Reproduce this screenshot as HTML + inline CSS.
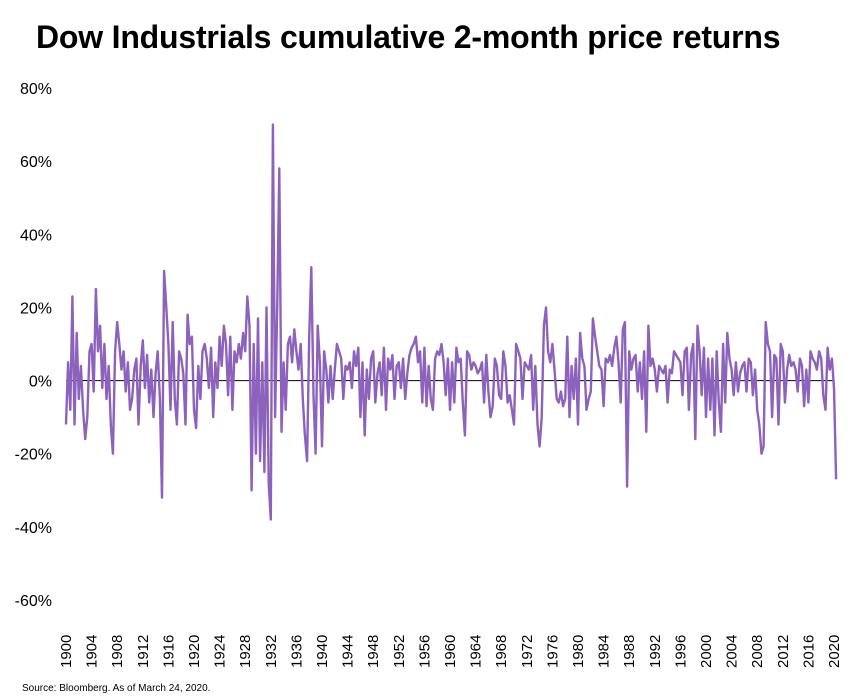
<!DOCTYPE html>
<html><head><meta charset="utf-8">
<style>
body{margin:0;background:#fff;font-family:"Liberation Sans",sans-serif;}
#wrap{position:relative;width:851px;height:699px;overflow:hidden;}
h1{position:absolute;left:36px;top:19px;margin:0;font-size:32px;font-weight:bold;color:#000;letter-spacing:-0.2px;}
#src{position:absolute;left:22px;top:683px;font-size:10px;color:#000;}
</style></head><body>
<div id="wrap">
<h1>Dow Industrials cumulative 2-month price returns</h1>
<svg id="chart" width="851" height="699" style="position:absolute;left:0;top:0"></svg>
<div id="src">Source: Bloomberg. As of March 24, 2020.</div>
</div>
<script>
const yTicks=[80,60,40,20,0,-20,-40,-60];
const yearTicks=[1900,1904,1908,1912,1916,1920,1924,1928,1932,1936,1940,1944,1948,1952,1956,1960,1964,1968,1972,1976,1980,1984,1988,1992,1996,2000,2004,2008,2012,2016,2020];
const startYear=1900;
const returns=[
-12,5,-8, 23,-12,13, -5,4,-8, -16,-10,8, 10,-3,25, 8,15,-2, 10,-5,4, -12,-20,8, 16,10,3, 8,-3,5,
-8,-5,3, 6,-12,4, 11,-2,7, -6,3,-10, 2,8,-5, -32,30,20, 10,-8,16, -5,-12,8, 6,2,-12, 18,10,12,
-8,-13,4, -5,8,10, 6,-2,9, -10,5,-2, 12,4,15, 10,-4,12, -8,8,5, 10,6,13, 8,23,15, -30,10,-20,
17,-22,5, -25,20,-28, -38,70,-10, 20,58,-14, 5,-8,10, 12,5,14, 8,3,10, -5,-15,-22, 12,31,-4, -20,15,5,
-18,8,3, -6,4,-5, 3,10,8, 6,-5,4, 3,5,-2, 8,4,9, -10,5,-15, 3,-5,6, 8,-6,2, 5,-4,9,
-8,6,3, 7,-5,4, 5,-2,6, -5,2,7, 9,10,12, 5,8,-6, 9,-7,4, -5,-8,6, 8,7,10, 5,-4,6,
-8,5,-6, 9,5,6, -6,-15,8, 7,3,5, 4,2,3, 5,-6,7, -3,-10,-7, 6,4,-4, -5,8,4, -6,-4,-8,
-12,10,8, 6,-5,5, 4,3,7, -8,4,-12, -18,-10,15, 20,8,5, 10,3,-5, -6,-3,-7, -5,12,-10, 4,-5,6,
-12,13,6, 4,-8,-5, -3,17,12, 8,4,3, -7,6,5, 7,4,9, 12,5,-6, 14,16,-29, 8,3,6, 7,-3,5,
-5,8,-14, 15,4,6, 3,-3,4, 3,2,4, -6,3,2, 8,7,6, 5,-4,8, 9,-8,7, 10,-16,15, 8,-4,9,
-10,6,-8, 6,-15,8, -6,-14,10, -6,13,6, 3,-4,5, -3,2,4, 5,-3,6, 5,-4,3, -8,-12,-20, -18,16,10,
8,-10,7, 6,-12,10, 8,-6,3, 7,4,5, 3,-3,6, 4,-7,3, -6,8,6, 5,3,8, 6,-4,-8, 9,3,6,
-2,-27];
const NS='http://www.w3.org/2000/svg';
const svg=document.getElementById('chart');
const x0=66,x1=834,yTop=88,yBot=600;
function xs(yr){return x0+(yr-1900)/120*(x1-x0);}
function ys(v){return yTop+(80-v)/140*(yBot-yTop);}
function mk(t,a){const e=document.createElementNS(NS,t);for(const k in a)e.setAttribute(k,a[k]);svg.appendChild(e);return e;}
yTicks.forEach(v=>{
  const t=mk('text',{x:52,y:ys(v)+6,'text-anchor':'end','font-size':16,'font-family':'Liberation Sans, sans-serif',fill:'#000'});
  t.textContent=v+'%';
  
  
});
yearTicks.forEach(y=>{
  const xx=xs(y)+5;
  const t=mk('text',{x:0,y:0,transform:`translate(${xx},668) rotate(-90)`,'text-anchor':'start','font-size':15,'font-family':'Liberation Sans, sans-serif',fill:'#000'});
  t.textContent=y;
  
  
});
const zl=mk('line',{x1:x0,x2:x1,y1:ys(0),y2:ys(0),stroke:'#000','stroke-width':1});


const step=1/3;
const pts=returns.map((v,i)=>xs(startYear+i*step).toFixed(1)+','+ys(v).toFixed(1)).join(' ');
const pl=mk('polyline',{points:pts,fill:'none',stroke:'#8c62bd','stroke-width':2.4,'stroke-linejoin':'round'});


</script>
</body></html>
